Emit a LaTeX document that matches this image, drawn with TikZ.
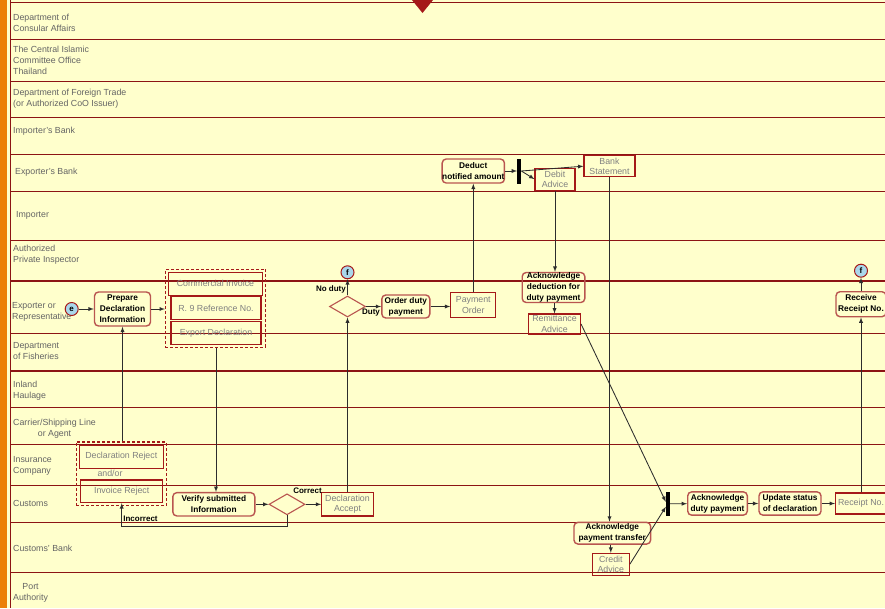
\documentclass[tikz,border=0pt]{standalone}
\usepackage{fontspec}
\setmainfont{Liberation Sans}
\usetikzlibrary{shapes.geometric}
\usetikzlibrary{fit}
\definecolor{paleyellow}{RGB}{255,255,204}
\definecolor{stripeorange}{RGB}{236,128,8}
\definecolor{lanered}{RGB}{140,20,20}
\definecolor{taskred}{RGB}{185,85,80}
\definecolor{docred}{RGB}{165,25,25}
\definecolor{docgray}{RGB}{128,128,128}
\definecolor{labelgray}{RGB}{100,100,100}
\definecolor{eventblue}{RGB}{170,215,235}
\definecolor{flowgray}{RGB}{45,45,45}
\newcommand\lanefont{\fontsize{8.8}{11}\selectfont}
\newcommand\taskfont{\fontsize{8.3}{11}\selectfont\bfseries}
\newcommand\docfont{\fontsize{8.8}{10.5}\selectfont}
\newcommand\flowfont{\fontsize{8}{10}\selectfont\bfseries}
\tikzset{
  lane/.style={draw=lanered,line width=1pt},
  lanebold/.style={draw=lanered,line width=1.8pt},
  lanelbl/.style={anchor=west,align=left,text=labelgray,font=\lanefont,inner sep=0pt},
  task/.style={draw=taskred,rounded corners=4pt,line width=1.4pt,align=center,font=\taskfont,inner sep=0pt},
  docbox/.style={draw=docred,line width=1.1pt,align=center,text=docgray,font=\docfont,inner sep=0pt},
  gateway/.style={diamond,draw=taskred,line width=1.1pt,inner sep=0pt,minimum width=36pt,minimum height=21pt},
  evt/.style={circle,draw=docred,line width=1pt,fill=eventblue,inner sep=0pt,minimum size=13pt,font=\flowfont},
  syncbar/.style={fill=black,inner sep=0pt,minimum width=4pt,minimum height=25pt},
  docgroup/.style={draw=docred,line width=1.2pt,dash pattern=on 3pt off 2pt,inner sep=2.5pt},
  flow/.style={draw=flowgray,line width=0.85pt,-latex},
  flowlbl/.style={font=\flowfont,inner sep=0pt}
}
\begin{document}
\begin{tikzpicture}[x=1pt,y=-1pt]
\useasboundingbox (0,0) rectangle (885,608);
\fill[paleyellow] (0,0) rectangle (885,608);
\fill[stripeorange] (0,0) rectangle (7,608);
\draw[lane] (10,0) -- (10,608);

\draw[lane] (10,2.5) -- (885,2.5);
\draw[lane] (10,39) -- (885,39);
\draw[lane] (10,81) -- (885,81);
\draw[lane] (10,117) -- (885,117);
\draw[lane] (10,154) -- (885,154);
\draw[lane] (10,191) -- (885,191);
\draw[lane] (10,240) -- (885,240);
\draw[lanebold] (10,281) -- (885,281);
\draw[lane] (10,333) -- (885,333);
\draw[lanebold] (10,371) -- (885,371);
\draw[lane] (10,407) -- (885,407);
\draw[lane] (10,444) -- (885,444);
\draw[lane] (10,485) -- (885,485);
\draw[lane] (10,522) -- (885,522);
\draw[lane] (10,572) -- (885,572);
\fill[docred] (412,0) -- (433,0) -- (422.5,13) -- cycle;

\node[lanelbl] (lblConsular) at (13,22.5) {Department of\\Consular Affairs};
\node[lanelbl] (lblIslamic) at (13,60) {The Central Islamic\\Committee Office\\Thailand};
\node[lanelbl] (lblForeignTrade) at (13,99) {Department of Foreign Trade\\(or Authorized CoO Issuer)};
\node[lanelbl] (lblImpBank) at (13,131) {Importer's Bank};
\node[lanelbl] (lblExpBank) at (15,172) {Exporter's Bank};
\node[lanelbl] (lblImporter) at (16,215) {Importer};
\node[lanelbl] (lblInspector) at (13,254.5) {Authorized\\Private Inspector};
\node[lanelbl] (lblExporter) at (12,312) {Exporter or\\Representative};
\node[lanelbl] (lblFisheries) at (13,351.5) {Department\\of Fisheries};
\node[lanelbl] (lblHaulage) at (13,391) {Inland\\Haulage};
\node[lanelbl,align=center] (lblCarrier) at (13,428.5) {Carrier/Shipping Line\\or Agent};
\node[lanelbl] (lblInsurance) at (13,465.5) {Insurance\\Company};
\node[lanelbl] (lblCustoms) at (13,503) {Customs};
\node[lanelbl] (lblCustBank) at (13,548) {Customs' Bank};
\node[lanelbl,align=center] (lblPort) at (13,593) {Port\\Authority};

\node[evt] (evE) at (71.7,309) {e};
\node[task,minimum width=56pt,minimum height=34pt] (prep) at (122.5,309) {Prepare\\Declaration\\Information};
\node[docbox,minimum width=94pt,minimum height=23pt] (ci) at (215.5,283.7) {Commercial Invoice};
\node[docbox,minimum width=90pt,minimum height=22.6pt] (r9) at (216,308) {R. 9 Reference No.};
\node[docbox,minimum width=90pt,minimum height=22.6pt] (ed) at (216,333) {Export Declaration};
\node[docgroup,fit=(ci)(r9)(ed)] (grpA) {};

\node[docbox,minimum width=84pt,minimum height=23.3pt] (declrej) at (121.3,456.7) {Declaration Reject};
\node[docbox,minimum width=82pt,minimum height=22.7pt] (invrej) at (121.7,491.3) {Invoice Reject};
\node[docgroup,fit=(declrej)(invrej)] (grpB) {};
\node[text=docgray,font=\docfont,inner sep=0pt] (lblAndOr) at (110,473) {and/or};

\node[task,minimum width=82pt,minimum height=23.3pt] (verify) at (213.8,504.3) {Verify submitted\\Information};
\node[gateway] (chk) at (287,504.3) {};
\node[docbox,minimum width=51.6pt,minimum height=23.3pt] (accept) at (347.5,504.3) {Declaration\\Accept};
\node[flowlbl] (lblCorrect) at (307.5,491) {Correct};
\node[flowlbl] (lblIncorrect) at (140.5,518.5) {Incorrect};

\node[gateway] (duty) at (347.5,306.5) {};
\node[evt] (evF1) at (347.5,272.3) {f};
\node[flowlbl,anchor=east] (lblNoDuty) at (346,289) {No duty};
\node[flowlbl] (lblDuty) at (371,313) {Duty};
\node[task,minimum width=48pt,minimum height=23pt] (order) at (405.8,306.5) {Order duty\\payment};
\node[docbox,minimum width=45pt,minimum height=25pt] (payord) at (473.3,305.2) {Payment\\Order};

\node[task,minimum width=61pt,minimum height=24pt] (deduct) at (473.3,171) {Deduct\\notified amount};
\node[syncbar] (barA) at (519.2,171) {};
\node[docbox,minimum width=40pt,minimum height=21.7pt] (debit) at (555,179.2) {Debit\\Advice};
\node[docbox,minimum width=51pt,minimum height=21pt] (bankst) at (609.5,166.2) {Bank\\Statement};

\node[task,minimum width=62.6pt,minimum height=30pt] (ackded) at (553.5,287.5) {Acknowledge\\deduction for\\duty payment};
\node[docbox,minimum width=52pt,minimum height=20pt] (remit) at (554.5,324) {Remittance\\Advice};

\node[task,minimum width=76.7pt,minimum height=21.7pt] (ackpay) at (612.3,533.2) {Acknowledge\\payment transfer};
\node[docbox,minimum width=37pt,minimum height=21.7pt] (credit) at (610.8,564.2) {Credit\\Advice};

\node[syncbar,minimum height=24pt] (barB) at (668,503.8) {};
\node[task,minimum width=59.6pt,minimum height=23.3pt] (ackduty) at (717.5,503.5) {Acknowledge\\duty payment};
\node[task,minimum width=62pt,minimum height=23.3pt] (update) at (790,503.5) {Update status\\of declaration};
\node[docbox,minimum width=51pt,minimum height=21pt] (receipt) at (861,503.5) {Receipt No.};
\node[task,minimum width=50pt,minimum height=25pt] (recv) at (861,304.2) {Receive\\Receipt No.};
\node[evt] (evF2) at (861,270.7) {f};

\draw[flow] (evE) -- (prep);
\draw[flow] (prep.east) -- (prep.east -| grpA.west);
\draw[flow] (grpA.south -| ed) -- (verify.north -| ed);
\draw[flow] (verify) -- (chk);
\draw[flow] (chk) -- (accept);
\draw[flow] (chk.south) -- ++(0,11) -| (invrej.south);
\draw[flow] (grpB.north -| prep) -- (prep.south);
\draw[flow] (accept) -- (duty);
\draw[flow] (duty) -- (evF1);
\draw[flow] (duty) -- (order);
\draw[flow] (order.east) -- (order.east -| payord.west);
\draw[flow] (payord) -- (deduct);
\draw[flow] (deduct) -- (barA);
\draw[flow] (barA.east) -- (bankst.west);
\draw[flow] (barA.east) -- (debit.west);
\draw[flow] (debit.south) -- (debit.south |- ackded.north);
\draw[flow] (ackded.south -| remit) -- (remit.north);
\draw[flow] (remit.east) -- ([yshift=2pt]barB.west);
\draw[flow] (bankst.south) -- (bankst.south |- ackpay.north);
\draw[flow] (ackpay.south -| credit) -- (credit.north);
\draw[flow] (credit.east) -- ([yshift=-3pt]barB.west);
\draw[flow] (barB) -- (ackduty);
\draw[flow] (ackduty) -- (update);
\draw[flow] (update) -- (receipt);
\draw[flow] (receipt) -- (recv);
\draw[flow] (recv) -- (evF2);
\end{tikzpicture}
\end{document}
